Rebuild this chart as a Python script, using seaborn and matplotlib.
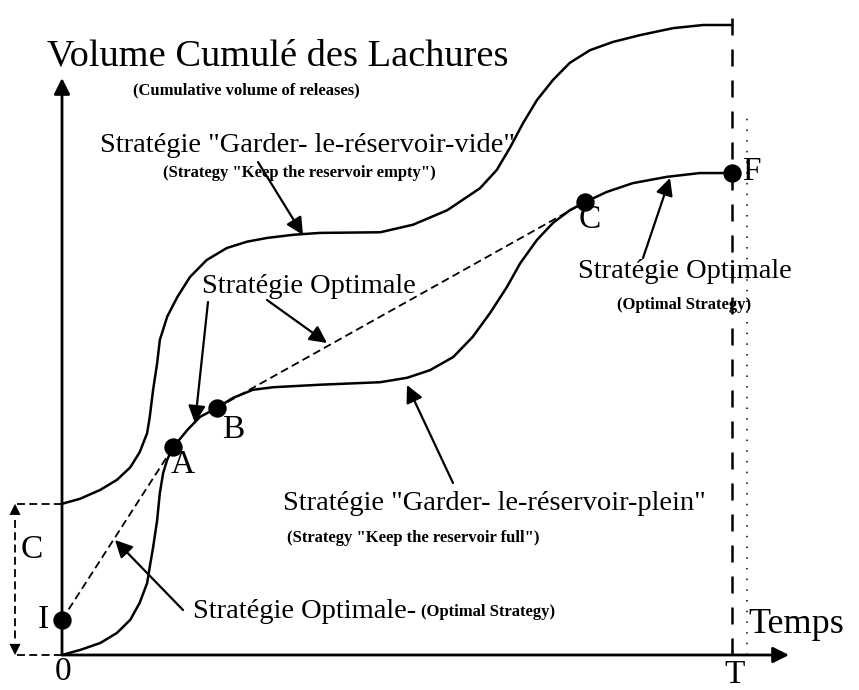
import numpy as np
import pandas as pd
import matplotlib
matplotlib.use('Agg')
import matplotlib.pyplot as plt
import seaborn as sns

# ---------------- data (time units: T = 10 ; volume units) ----------------
empty_t = [0.00, 0.27, 0.57, 0.82, 1.02, 1.16, 1.27, 1.31, 1.36, 1.42, 1.46, 1.57,
           1.72, 1.91, 2.16, 2.46, 2.76, 3.06, 3.45, 3.85, 4.75, 5.24, 5.75, 6.24,
           6.49, 6.69, 6.88, 7.09, 7.33, 7.58, 7.88, 8.22, 8.63, 9.12, 9.57, 10.00]
empty_v = [2.40, 2.48, 2.62, 2.78, 2.98, 3.22, 3.52, 3.78, 4.21, 4.63, 5.00, 5.37,
           5.68, 6.00, 6.27, 6.46, 6.56, 6.62, 6.67, 6.70, 6.71, 6.83, 7.06, 7.41,
           7.70, 8.06, 8.44, 8.81, 9.13, 9.40, 9.60, 9.73, 9.84, 9.95, 10.00, 10.00]

full_t = [0.00, 0.27, 0.57, 0.82, 1.02, 1.16, 1.27, 1.31, 1.36, 1.42, 1.46, 1.51,
          1.57, 1.66, 1.87, 2.06, 2.31, 2.55, 2.85, 3.15, 3.85, 4.75, 5.15, 5.49,
          5.84, 6.13, 6.39, 6.64, 6.84, 7.09, 7.33, 7.58, 7.81, 8.13, 8.52, 9.03,
          9.52, 10.00]
full_v = [0.00, 0.08, 0.19, 0.35, 0.56, 0.83, 1.14, 1.40, 1.71, 2.14, 2.57, 2.89,
          3.10, 3.30, 3.57, 3.78, 3.92, 4.08, 4.21, 4.25, 4.29, 4.33, 4.40, 4.52,
          4.73, 5.05, 5.43, 5.84, 6.22, 6.59, 6.86, 7.06, 7.19, 7.35, 7.49, 7.59,
          7.65, 7.65]

opt_names = ['I', 'A', 'B', 'C', 'F']
opt_t = [0.00, 1.66, 2.31, 7.81, 10.00]
opt_v = [0.56, 3.30, 3.92, 7.19, 7.65]

T_end = 10.0
C_cap = 2.40

# ---------------- style ----------------
sns.set_theme(style='white')
plt.rcParams['font.family'] = ['Liberation Serif', 'DejaVu Serif']

fig = plt.figure(figsize=(8.59, 6.9), dpi=100)
ax = fig.add_axes([0, 0, 1, 1])

PX0, PY0, SX, SY = 62, 655, 67, 63
def X(px):
    return (px - PX0) / SX
def Y(py):
    return (PY0 - py) / SY

ax.set_xlim(X(0), X(859))
ax.set_ylim(Y(690), Y(0))
ax.axis('off')

K = 'black'

# curves
sns.lineplot(data=pd.DataFrame({'t': empty_t, 'v': empty_v}), x='t', y='v',
             sort=False, estimator=None, color=K, lw=1.8, ax=ax,
             solid_joinstyle='round', solid_capstyle='round')
sns.lineplot(data=pd.DataFrame({'t': full_t, 'v': full_v}), x='t', y='v',
             sort=False, estimator=None, color=K, lw=1.8, ax=ax,
             solid_joinstyle='round', solid_capstyle='round')

# optimal strategy dashed segments I->A and B->C
for i, j in [(0, 1), (2, 3)]:
    sns.lineplot(x=[opt_t[i], opt_t[j]], y=[opt_v[i], opt_v[j]], sort=False,
                 estimator=None, color=K, lw=1.3, linestyle=(0, (4.4, 2.4)), ax=ax)

# points
sns.scatterplot(x=opt_t, y=opt_v, color=K, s=150, edgecolor=K, ax=ax, zorder=5)

# axes arrows
ap = dict(arrowstyle='-|>', lw=2.0, color=K, mutation_scale=24, shrinkA=0, shrinkB=0)
ax.annotate('', xy=(X(789), 0), xytext=(0, 0), arrowprops=ap)
ax.annotate('', xy=(0, Y(78)), xytext=(0, 0), arrowprops=ap)

# T line (dashed) and dotted line
ax.plot([T_end, T_end], [0, Y(8)], color=K, lw=1.8, ls=(0, (6.8, 5.6)))
ax.plot([X(747), X(747)], [0, Y(110)], color=K, lw=1.1, ls=(0, (1, 6)))

# capacity bracket C
xc = X(15)
ax.plot([X(17), 0], [C_cap, C_cap], color=K, lw=1.3, ls=(0, (4.4, 2.4)))
ax.plot([X(17), 0], [0, 0], color=K, lw=1.3, ls=(0, (4.4, 2.4)))
ax.plot([xc, xc], [Y(520), Y(640)], color=K, lw=1.3, ls=(0, (4.4, 2.4)))
hp = dict(arrowstyle='-|>', lw=0.01, color=K, mutation_scale=20, shrinkA=0, shrinkB=0)
ax.annotate('', xy=(xc, C_cap), xytext=(xc, Y(525)), arrowprops=hp)
ax.annotate('', xy=(xc, 0), xytext=(xc, Y(635)), arrowprops=hp)

# annotation arrows
aa = dict(arrowstyle='-|>', lw=1.6, color=K, mutation_scale=26, shrinkA=0, shrinkB=0)
for (tx, ty), (hx, hy) in [((258, 162), (303, 235)),
                           ((208, 302), (195, 423)),
                           ((267, 300), (327, 343)),
                           ((453, 483), (407, 385)),
                           ((643, 258), (670, 178)),
                           ((183, 610), (115, 540))]:
    ax.annotate('', xy=(X(hx), Y(hy)), xytext=(X(tx), Y(ty)), arrowprops=aa)

# texts
def txt(px, py, s, size, weight='normal', va='baseline', ha='left'):
    ax.text(X(px), Y(py), s, fontsize=size, fontweight=weight, va=va, ha=ha, color=K)

txt(47, 65, 'Volume Cumulé des Lachures', 27.6)
txt(133, 90, '(Cumulative volume of releases)', 12, 'bold', va='center')
txt(100, 152, 'Stratégie "Garder- le-réservoir-vide"', 20.5)
txt(163, 173, '(Strategy "Keep the reservoir empty")', 12, 'bold', va='center')
txt(202, 293, 'Stratégie Optimale', 20.5)
txt(578, 278, 'Stratégie Optimale', 20.5)
txt(617, 305, '(Optimal Strategy)', 12, 'bold', va='center')
txt(283, 510, 'Stratégie "Garder- le-réservoir-plein"', 20.5)
txt(287, 538, '(Strategy "Keep the reservoir full")', 12, 'bold', va='center')
txt(193, 618, 'Stratégie Optimale-', 20.5)
txt(421, 612, '(Optimal Strategy)', 12, 'bold', va='center')
txt(748, 633, 'Temps', 26)

for px, py, s in [(43, 620, 'I'), (32, 550, 'C'), (63, 672, '0'), (735, 675, 'T'),
                  (183, 465, 'A'), (233, 430, 'B'), (590, 220, 'C'), (751, 172, 'F')]:
    txt(px, py, s, 24, va='center', ha='center')

fig.savefig('out.png', dpi=100)
